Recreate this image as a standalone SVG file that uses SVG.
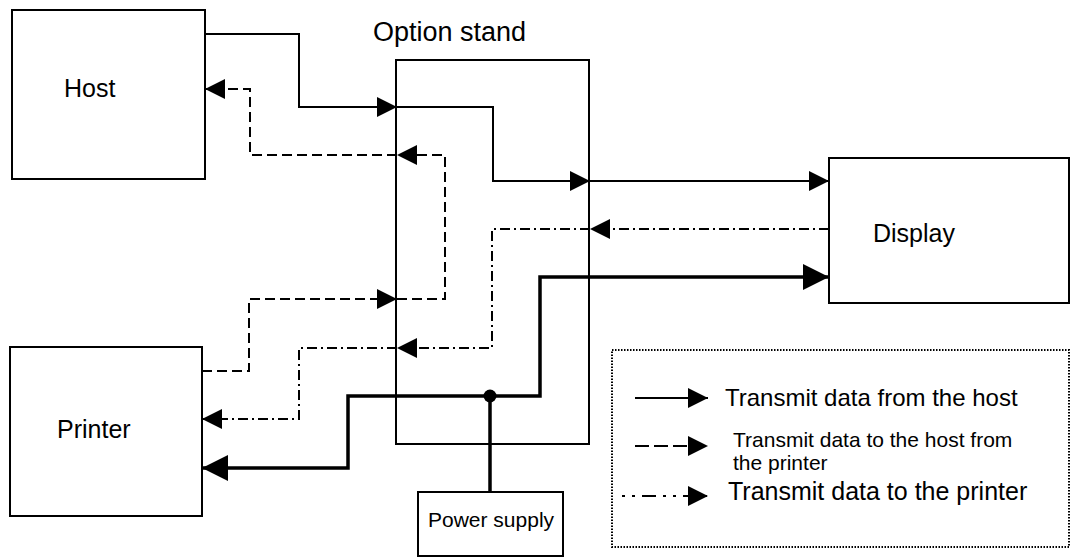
<svg xmlns="http://www.w3.org/2000/svg" width="1071" height="558" viewBox="0 0 1071 558">
<style>
.box{fill:#fff;stroke:#000;stroke-width:2}
.t{font-family:"Liberation Sans",Arial,sans-serif;fill:#000}
.c{fill:none;stroke:#000;stroke-width:2}
.thick{fill:none;stroke:#000;stroke-width:3.5}
.dash{stroke-dasharray:10 5}
.dd{stroke-dasharray:10 4 2 4}
</style>
<defs>
<marker id="arr" markerUnits="userSpaceOnUse" markerWidth="21" markerHeight="21" refX="20" refY="10" orient="auto">
<path d="M0,0 L20,10 L0,20 z" fill="#000"/>
</marker>
<marker id="arrB" markerUnits="userSpaceOnUse" markerWidth="27" markerHeight="27" refX="26" refY="13" orient="auto">
<path d="M0,0 L26,13 L0,26 z" fill="#000"/>
</marker>
</defs>
<rect width="1071" height="558" fill="#fff"/>

<g id="option-stand">
<rect class="box" x="396" y="60" width="193" height="384"/>
<text class="t" x="373" y="41" font-size="27">Option stand</text>
</g>

<g id="connectors">
<!-- solid: host to display -->
<path class="c" d="M205,34 H299 V107 H397" marker-end="url(#arr)"/>
<path class="c" d="M397,107 H493 V181 H590" marker-end="url(#arr)"/>
<path class="c" d="M590,181 H829" marker-end="url(#arr)"/>
<!-- dashed: printer to host -->
<path class="c dash" d="M202,371 H249 V299 H397" marker-end="url(#arr)"/>
<path class="c dash" d="M397,299 H445 V155 H397" marker-end="url(#arr)"/>
<path class="c dash" d="M397,155 H250 V89 H205" marker-end="url(#arr)"/>
<!-- dash-dot: display to printer -->
<path class="c dd" d="M829,229 H590" marker-end="url(#arr)"/>
<path class="c dd" d="M590,229 H492 V348 H397" marker-end="url(#arr)"/>
<path class="c dd" d="M397,348 H299 V419 H202" marker-end="url(#arr)"/>
<!-- thick: power -->
<path class="thick" d="M490,396 H540 V277 H829" marker-end="url(#arrB)"/>
<path class="thick" d="M490,396 H348 V468 H202" marker-end="url(#arrB)"/>
<path class="thick" d="M490,396 V492"/>
<circle cx="490" cy="396" r="6.5" fill="#000"/>
</g>

<g id="host">
<rect class="box" x="12" y="10" width="193" height="169"/>
<text class="t" x="64" y="97" font-size="25">Host</text>
</g>

<g id="printer">
<rect class="box" x="10" y="347" width="192" height="169"/>
<text class="t" x="57" y="438" font-size="25">Printer</text>
</g>

<g id="display">
<rect class="box" x="829" y="158" width="240" height="145"/>
<text class="t" x="873" y="242" font-size="25">Display</text>
</g>

<g id="power-supply">
<rect class="box" x="418" y="492" width="145" height="64"/>
<text class="t" x="428" y="527" font-size="21">Power supply</text>
</g>

<g id="legend">
<rect x="612" y="350" width="457" height="197" fill="none" stroke="#000" stroke-width="2" stroke-dasharray="1.5 1.5"/>
<path class="c" d="M635,398 H708" marker-end="url(#arr)"/>
<text class="t" x="725" y="406" font-size="24">Transmit data from the host</text>
<path class="c" d="M635,446 H708" stroke-dasharray="14 5" marker-end="url(#arr)"/>
<text class="t" x="733" y="447" font-size="21">Transmit data to the host from</text>
<text class="t" x="733" y="470" font-size="21">the printer</text>
<path class="c" d="M622,496 H708" stroke-dasharray="3 7 3 7 14 7" marker-end="url(#arr)"/>
<text class="t" x="728" y="500" font-size="25">Transmit data to the printer</text>
</g>
</svg>
